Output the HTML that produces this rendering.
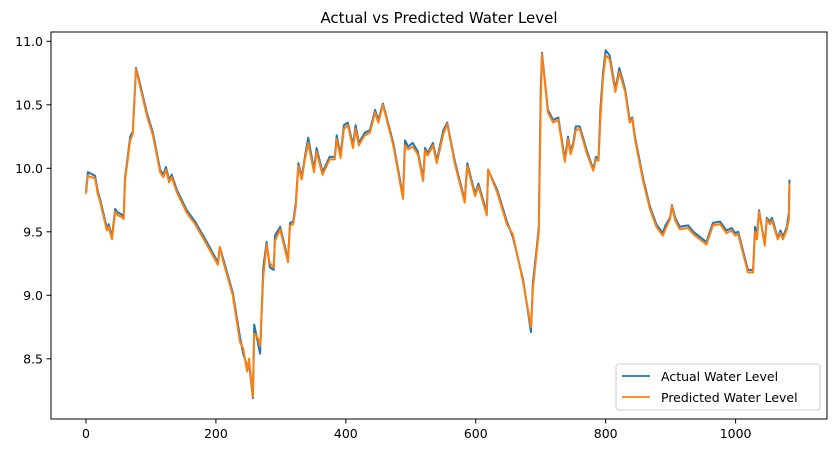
<!DOCTYPE html>
<html><head><meta charset="utf-8"><style>
body{margin:0;background:#fff;}
svg{display:block;font-family:"DejaVu Sans","Liberation Sans",sans-serif;}
</style></head><body>
<svg id="chart" width="835" height="451">
<rect x="0" y="0" width="835" height="451" fill="#fff"/>
<text x="439" y="23" text-anchor="middle" font-size="15" fill="#000">Actual vs Predicted Water Level</text>
<g id="ticks"></g>
<g id="series"></g>
<rect x="51" y="32" width="776" height="387" fill="none" stroke="#000" stroke-width="1"/>
<g>
<rect x="616" y="364" width="204" height="46" rx="3" fill="#fff" fill-opacity="0.8" stroke="#ccc"/>
<line x1="622" y1="376" x2="650" y2="376" stroke="#1f77b4" stroke-width="1.8"/>
<text x="661" y="381" font-size="12.5">Actual Water Level</text>
<line x1="622" y1="397" x2="650" y2="397" stroke="#ff7f0e" stroke-width="1.8"/>
<text x="661" y="402" font-size="12.5">Predicted Water Level</text>
</g>
</svg>
<script>
const idx = [0,3,14,18,22,29,32,35,40,45,49,54,58,60,68,72,77,83,94,103,114,119,123,128,132,140,155,168,186,203,206,211,226,237,242,248,251,257,259,265,268,273,278,283,289,291,299,311,314,319,323,327,332,337,342,351,355,364,375,383,386,392,397,403,411,415,420,429,437,445,450,457,473,488,491,496,503,511,519,522,526,534,540,550,556,568,583,587,599,604,617,619,633,648,657,673,685,688,694,697,700,702,711,719,727,737,742,746,750,754,760,771,781,785,789,792,796,800,806,815,821,830,837,841,845,858,868,878,888,892,899,902,907,914,927,935,955,965,976,986,994,999,1004,1019,1027,1030,1033,1036,1045,1048,1053,1056,1065,1069,1073,1079,1082,1083];
const actual = [9.82,9.97,9.94,9.82,9.75,9.6,9.53,9.56,9.46,9.68,9.65,9.64,9.62,9.92,10.25,10.29,10.79,10.67,10.43,10.28,9.99,9.95,10.01,9.91,9.95,9.83,9.67,9.58,9.42,9.26,9.38,9.29,9.02,8.67,8.54,8.44,8.47,8.19,8.77,8.62,8.54,9.22,9.42,9.22,9.2,9.47,9.54,9.28,9.57,9.58,9.73,10.04,9.93,10.09,10.24,9.99,10.16,9.97,10.09,10.09,10.26,10.1,10.34,10.36,10.18,10.34,10.2,10.28,10.3,10.46,10.38,10.51,10.2,9.78,10.22,10.17,10.2,10.13,9.92,10.16,10.12,10.2,10.06,10.3,10.36,10.05,9.75,10.04,9.8,9.88,9.65,9.99,9.83,9.58,9.46,9.12,8.71,9.1,9.38,9.54,10.62,10.91,10.46,10.38,10.4,10.07,10.25,10.13,10.2,10.33,10.33,10.14,9.99,10.09,10.08,10.48,10.76,10.93,10.89,10.62,10.79,10.62,10.38,10.4,10.25,9.91,9.7,9.56,9.49,9.55,9.61,9.71,9.61,9.54,9.55,9.5,9.42,9.57,9.58,9.51,9.53,9.49,9.5,9.2,9.2,9.54,9.46,9.67,9.4,9.61,9.58,9.61,9.45,9.51,9.46,9.54,9.65,9.91];
const predicted = [9.8,9.94,9.92,9.8,9.73,9.58,9.51,9.54,9.44,9.66,9.63,9.62,9.6,9.9,10.22,10.27,10.78,10.65,10.41,10.26,9.97,9.93,9.99,9.89,9.93,9.81,9.65,9.56,9.4,9.24,9.38,9.27,9.0,8.63,8.58,8.4,8.5,8.2,8.7,8.66,8.6,9.15,9.4,9.25,9.22,9.43,9.52,9.26,9.55,9.56,9.7,10.02,9.91,10.07,10.2,9.97,10.13,9.95,10.07,10.07,10.23,10.08,10.31,10.34,10.16,10.31,10.18,10.26,10.28,10.44,10.36,10.5,10.18,9.76,10.18,10.15,10.17,10.11,9.9,10.14,10.1,10.18,10.04,10.27,10.35,10.03,9.73,10.02,9.78,9.86,9.63,9.99,9.81,9.56,9.48,9.1,8.75,9.05,9.35,9.5,10.5,10.9,10.44,10.36,10.38,10.05,10.23,10.11,10.18,10.3,10.31,10.12,9.98,10.07,10.06,10.4,10.72,10.89,10.86,10.6,10.76,10.6,10.36,10.39,10.23,9.89,9.68,9.54,9.47,9.52,9.6,9.7,9.59,9.52,9.53,9.48,9.4,9.55,9.56,9.49,9.51,9.47,9.48,9.18,9.18,9.5,9.44,9.66,9.39,9.6,9.56,9.59,9.44,9.49,9.44,9.52,9.6,9.88];
const xTicks = [0,200,400,600,800,1000];
const yTicks = [8.5,9.0,9.5,10.0,10.5,11.0];
const yTickLabels = ["8.5","9.0","9.5","10.0","10.5","11.0"];

const NS="http://www.w3.org/2000/svg";
function xs(i){return 86 + i*0.6496;}
function ys(v){return 168.3 - (v-10)*127;}
const tg=document.getElementById('ticks');
xTicks.forEach(t=>{
  const l=document.createElementNS(NS,'line');
  l.setAttribute('x1',xs(t));l.setAttribute('x2',xs(t));l.setAttribute('y1',419);l.setAttribute('y2',423.5);
  l.setAttribute('stroke','#000');
  
  
  tg.appendChild(l);
  const tx=document.createElementNS(NS,'text');
  tx.setAttribute('x',xs(t));tx.setAttribute('y',438);tx.setAttribute('text-anchor','middle');tx.setAttribute('font-size','12.5');
  tx.textContent=t;
  
  
  tg.appendChild(tx);
});
yTicks.forEach((t,k)=>{
  const l=document.createElementNS(NS,'line');
  l.setAttribute('x1',46.5);l.setAttribute('x2',51);l.setAttribute('y1',ys(t));l.setAttribute('y2',ys(t));
  l.setAttribute('stroke','#000');
  
  
  tg.appendChild(l);
  const tx=document.createElementNS(NS,'text');
  tx.setAttribute('x',43);tx.setAttribute('y',ys(t)+4.5);tx.setAttribute('text-anchor','end');tx.setAttribute('font-size','12.5');
  tx.textContent=yTickLabels[k];
  
  
  tg.appendChild(tx);
});
const sg=document.getElementById('series');
function line(vals,color,name){
  const p=document.createElementNS(NS,'polyline');
  p.setAttribute('points',vals.map((v,k)=>xs(idx[k]).toFixed(1)+','+ys(v).toFixed(1)).join(' '));
  p.setAttribute('fill','none');p.setAttribute('stroke',color);p.setAttribute('stroke-width','2');p.setAttribute('stroke-linejoin','round');
  
  
  sg.appendChild(p);
}
line(actual,'#1f77b4','actual-water-level-line');
line(predicted,'#ff7f0e','predicted-water-level-line');
</script>
</body></html>
